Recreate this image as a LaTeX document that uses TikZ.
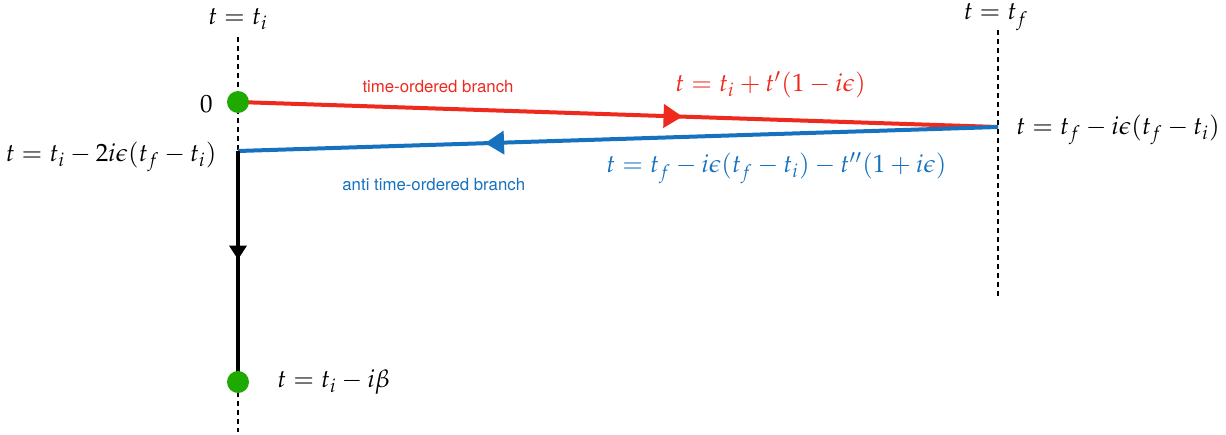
\documentclass[tikz,border=0pt]{standalone}
\usepackage{mathpazo}
\usepackage{fontspec}
\newfontfamily\labfont{TeX Gyre Heros}
\usetikzlibrary{arrows.meta,decorations.markings}
\definecolor{cred}{RGB}{238,42,30}
\definecolor{cblue}{RGB}{22,114,190}
\definecolor{cgreen}{RGB}{30,170,0}
\begin{document}
\begin{tikzpicture}[x=0.5pt,y=-0.5pt,
  mathlab/.style={font=\fontsize{12.5}{15}\selectfont, inner sep=0pt},
  branchlab/.style={font=\labfont\fontsize{8.4}{10}\selectfont, inner sep=0pt},
  guide/.style={line width=1pt, dash pattern=on 2.5pt off 2pt},
  dot/.style={circle, fill=cgreen, minimum size=11pt, inner sep=0pt},
  branch/.style={line width=2pt},
  midarrow/.style={postaction={decorate}, decoration={markings, mark=at position #1 with {\arrow{Triangle[length=9.5pt,width=11.5pt]}}}},
  downarrow/.style={postaction={decorate}, decoration={markings, mark=at position #1 with {\arrow{Triangle[length=7pt,width=8.5pt]}}}}
]
\useasboundingbox (0,0) rectangle (1226,434);
% coordinates
\coordinate (c0) at (238,102);
\coordinate (cbeta) at (238,382);
\coordinate (tf) at (998,127);
\coordinate (back) at (238,151);
\coordinate (gtop) at (238,37);
\coordinate (gbot) at (238,432);
\coordinate (gbotstart) at (238,392);
\coordinate (rtop) at (998,30);
\coordinate (rbot) at (998,297);
% guides
\draw[guide] (gtop) -- (back);
\draw[guide] (gbotstart) -- (gbot);
\draw[guide] (rtop) -- (rbot);
% branches
\draw[cred, branch, midarrow=0.585] (c0) -- (tf);
\draw[cblue, branch, midarrow=0.675] (tf) -- (back);
\draw[black, branch, downarrow=0.47] (back) -- (cbeta);
% dots
\node[dot] (d0) at (c0) {};
\node[dot] (dbeta) at (cbeta) {};
% labels
\node[mathlab, anchor=center] (lti) at (238,19) {$t=t_i$};
\node[mathlab, anchor=center] (ltf) at (996,17) {$t=t_f$};
\node[mathlab, anchor=east] (lzero) at (213,104) {$0$};
\node[mathlab, anchor=east] (lback) at (217,157) {$t=t_i-2i\epsilon(t_f-t_i)$};
\node[mathlab, anchor=west] (ltfe) at (1016,130) {$t=t_f-i\epsilon(t_f-t_i)$};
\node[mathlab, anchor=west] (lbeta) at (277,382) {$t=t_i-i\beta$};
\node[mathlab, anchor=west, text=cred] (lred) at (675,85) {$t=t_i+t'(1-i\epsilon)$};
\node[mathlab, anchor=west, text=cblue] (lblue) at (606,168) {$t=t_f-i\epsilon(t_f-t_i)-t''(1+i\epsilon)$};
\node[branchlab, anchor=center, text=cred] (tob) at (438,86) {time-ordered branch};
\node[branchlab, anchor=west, text=cblue] (atob) at (342,184) {anti time-ordered branch};
\end{tikzpicture}
\end{document}
